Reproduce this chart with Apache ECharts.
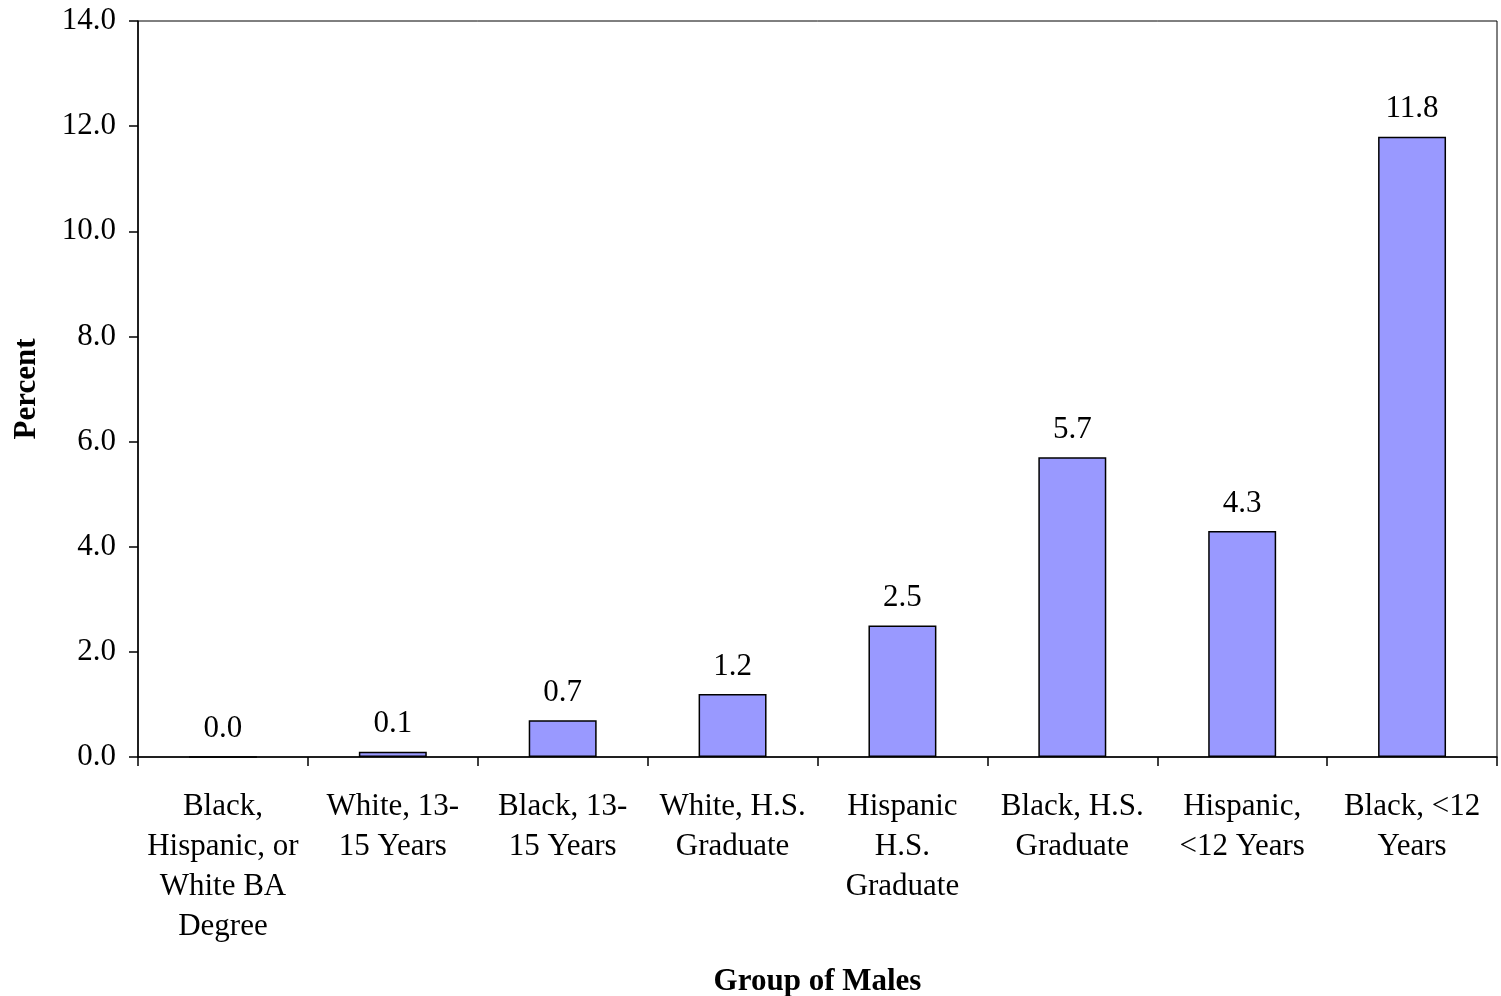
<!DOCTYPE html>
<html><head><meta charset="utf-8">
<script src="https://cdn.jsdelivr.net/npm/echarts@6/dist/echarts.min.js"></script>
<style>html,body{margin:0;padding:0;background:#fff}#c{width:1501px;height:996px}</style>
</head><body><div id="c"></div>
<script>
const categories = ["Black,\nHispanic, or\nWhite BA\nDegree","White, 13-\n15 Years","Black, 13-\n15 Years","White, H.S.\nGraduate","Hispanic\nH.S.\nGraduate","Black, H.S.\nGraduate","Hispanic,\n<12 Years","Black, <12\nYears"];
const values = [0.0, 0.1, 0.7, 1.2, 2.5, 5.7, 4.3, 11.8];
const yTicks = {min: 0, max: 14, interval: 2};
const font = '"Liberation Serif","Times New Roman",serif';
const fs = 31;
const chart = echarts.init(document.getElementById('c'));
chart.setOption({
  backgroundColor: '#fff',
  animation: false,
  grid: {left: 138, right: 4, top: 21, bottom: 239, containLabel: false, outerBoundsMode: 'none', show: true, borderColor: '#000', borderWidth: 1, backgroundColor: 'transparent'},
  xAxis: {
    type: 'category', data: categories,
    name: 'Group of Males', nameLocation: 'middle', nameGap: 209,
    nameTextStyle: {fontFamily: font, fontSize: fs, fontWeight: 'bold', color: '#000'},
    axisLine: {lineStyle: {color: '#000', width: 1.5}},
    axisTick: {show: true, length: 9, lineStyle: {color: '#000', width: 1.5}},
    axisLabel: {fontFamily: font, fontSize: fs, color: '#000', lineHeight: 40, margin: 30, interval: 0}
  },
  yAxis: {
    type: 'value', min: yTicks.min, max: yTicks.max, interval: yTicks.interval,
    name: 'Percent', nameLocation: 'middle', nameGap: 96,
    nameTextStyle: {fontFamily: font, fontSize: fs, fontWeight: 'bold', color: '#000'},
    axisLine: {show: true, lineStyle: {color: '#000', width: 1.5}},
    axisTick: {show: true, length: 9, lineStyle: {color: '#000', width: 1.5}},
    splitLine: {show: false},
    axisLabel: {fontFamily: font, fontSize: fs, color: '#000', margin: 22, formatter: v => v.toFixed(1)}
  },
  series: [{
    type: 'bar', data: values, barWidth: '40%',
    itemStyle: {color: '#9999FF', borderColor: '#000', borderWidth: 1.5},
    label: {show: true, position: 'top', distance: 12, fontFamily: font, fontSize: fs, color: '#000', formatter: p => p.value.toFixed(1)}
  }]
});
</script></body></html>
